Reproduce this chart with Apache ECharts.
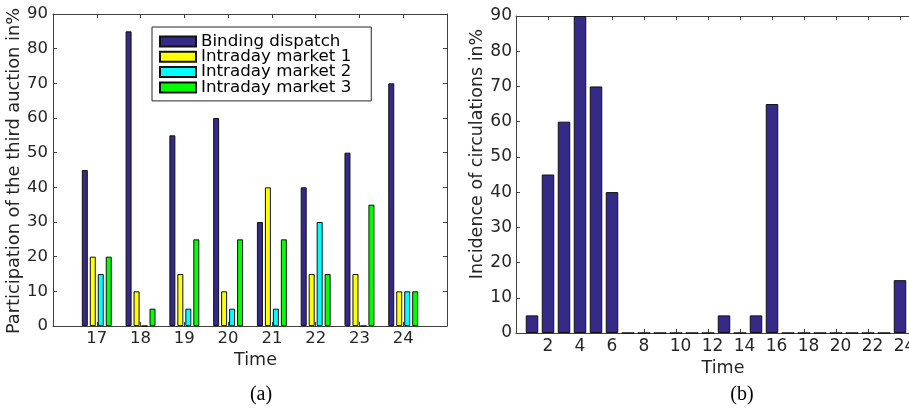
<!DOCTYPE html>
<html><head><meta charset="utf-8">
<script src="https://cdn.jsdelivr.net/npm/echarts@6/dist/echarts.min.js"></script>
<style>html,body{margin:0;padding:0;background:#fff}#c{width:909px;height:410px}</style>
</head><body><div id="c"></div>
<script>
const hoursA = [17, 18, 19, 20, 21, 22, 23, 24];
const bindingDispatch = [45, 85, 55, 60, 30, 40, 50, 70];
const intraday1 = [20, 10, 15, 10, 40, 15, 15, 10];
const intraday2 = [15, 0, 5, 5, 5, 30, 0, 10];
const intraday3 = [20, 5, 25, 25, 25, 15, 35, 10];
const seriesNamesA = ['Binding dispatch', 'Intraday market 1', 'Intraday market 2', 'Intraday market 3'];
const hoursB = [1, 2, 3, 4, 5, 6, 7, 8, 9, 10, 11, 12, 13, 14, 15, 16, 17, 18, 19, 20, 21, 22, 23, 24];
const circulations = [5, 45, 60, 90, 70, 40, 0, 0, 0, 0, 0, 0, 5, 0, 5, 65, 0, 0, 0, 0, 0, 0, 0, 15];
const xTicksB = [2, 4, 6, 8, 10, 12, 14, 16, 18, 20, 22, 24];

const colors = ['#352A87', '#FFFF00', '#00FFFF', '#00FF00'];
const axisCol = '#404040';
const txtCol = '#262626';
const font = 'DejaVu Sans';

function frameAxis(extra) {
  return Object.assign({
    type: 'value',
    axisLine: { show: true, onZero: false, lineStyle: { color: axisCol, width: 1 } },
    axisTick: { show: true, inside: true, length: 4, lineStyle: { color: axisCol } },
    splitLine: { show: false },
    axisLabel: { show: false }
  }, extra);
}

const chart = echarts.init(document.getElementById('c'), null, { renderer: 'canvas' });
const seriesA = [bindingDispatch, intraday1, intraday2, intraday3].map((vals, k) => ({
  name: seriesNamesA[k],
  type: 'bar',
  xAxisIndex: 0, yAxisIndex: 0,
  barWidth: 6,
  barGap: '33%',
  itemStyle: { color: colors[k], borderColor: '#111', borderWidth: 1 },
  data: hoursA.map((h, i) => [h, vals[i]])
}));

chart.setOption({
  animation: false,
  grid: [
    { left: 53, top: 14, width: 394, height: 312, outerBoundsMode: 'none', containLabel: false },
    { left: 516, top: 16, width: 400, height: 317, outerBoundsMode: 'none', containLabel: false }
  ],
  legend: {
    data: seriesNamesA,
    orient: 'vertical',
    left: 152, top: 27,
    itemWidth: 36, itemHeight: 10, itemGap: -1.7,
    icon: 'rect',
    selectedMode: false,
    backgroundColor: '#fff',
    borderColor: '#262626', borderWidth: 1, borderRadius: 0,
    padding: [6, 20, 5, 7],
    textStyle: { fontFamily: font, fontSize: 16.7, lineHeight: 15.3, color: '#000' }
  },
  xAxis: [
    frameAxis({ gridIndex: 0, position: 'bottom', min: 16, max: 25, interval: 1,
      axisLabel: { show: true, fontFamily: font, fontSize: 16.5, color: txtCol, margin: 4,
        formatter: v => hoursA.includes(v) ? String(v) : '' },
      name: 'Time', nameLocation: 'middle', nameGap: 18,
      nameTextStyle: { fontFamily: font, fontSize: 17.5, color: txtCol, padding: [0, 0, 0, 11] } }),
    frameAxis({ gridIndex: 0, position: 'top', min: 16, max: 25, interval: 1 }),
    frameAxis({ gridIndex: 1, position: 'bottom', min: 0, max: 25, interval: 2,
      axisLabel: { show: true, fontFamily: font, fontSize: 17, color: txtCol, margin: 5,
        formatter: v => !xTicksB.includes(v) ? '' : (v >= 10 ? '{w|' + v + '}' : String(v)),
        rich: { w: { fontFamily: font, fontSize: 17, color: txtCol, padding: [0, 0, 0, 9] } } },
      name: 'Time', nameLocation: 'middle', nameGap: 17,
      nameTextStyle: { fontFamily: font, fontSize: 17.5, color: txtCol, padding: [0, 0, 0, 14] } }),
    frameAxis({ gridIndex: 1, position: 'top', min: 0, max: 25, interval: 2 })
  ],
  yAxis: [
    frameAxis({ gridIndex: 0, position: 'left', min: 0, max: 90, interval: 10,
      axisLabel: { show: true, fontFamily: font, fontSize: 16.5, color: txtCol, margin: 5 },
      name: 'Participation of the third auction in%', nameLocation: 'middle', nameGap: 27,
      nameTextStyle: { fontFamily: font, fontSize: 17.8, color: txtCol, padding: [0, 2, 0, 0] } }),
    frameAxis({ gridIndex: 0, position: 'right', min: 0, max: 90, interval: 10 }),
    frameAxis({ gridIndex: 1, position: 'left', min: 0, max: 90, interval: 10,
      axisLabel: { show: true, fontFamily: font, fontSize: 17, color: txtCol, margin: 4 },
      name: 'Incidence of circulations in%', nameLocation: 'middle', nameGap: 28,
      nameTextStyle: { fontFamily: font, fontSize: 17.5, color: txtCol, padding: [0, 0, 0, 41] } }),
    frameAxis({ gridIndex: 1, position: 'right', min: 0, max: 90, interval: 10 })
  ],
  series: seriesA.concat([{
    name: 'Incidence of circulations',
    type: 'bar',
    xAxisIndex: 2, yAxisIndex: 2,
    barWidth: 12.5,
    itemStyle: { color: colors[0], borderColor: '#111', borderWidth: 1 },
    data: hoursB.map((h, i) => [h, circulations[i]])
  }]),
  graphic: [
    { type: 'text', x: 261, y: 395, style: { text: '(a)', font: '20px "Liberation Serif"', fill: '#000', align: 'center', verticalAlign: 'middle' } },
    { type: 'text', x: 742, y: 395, style: { text: '(b)', font: '20px "Liberation Serif"', fill: '#000', align: 'center', verticalAlign: 'middle' } }
  ]
});
</script>
</body></html>
